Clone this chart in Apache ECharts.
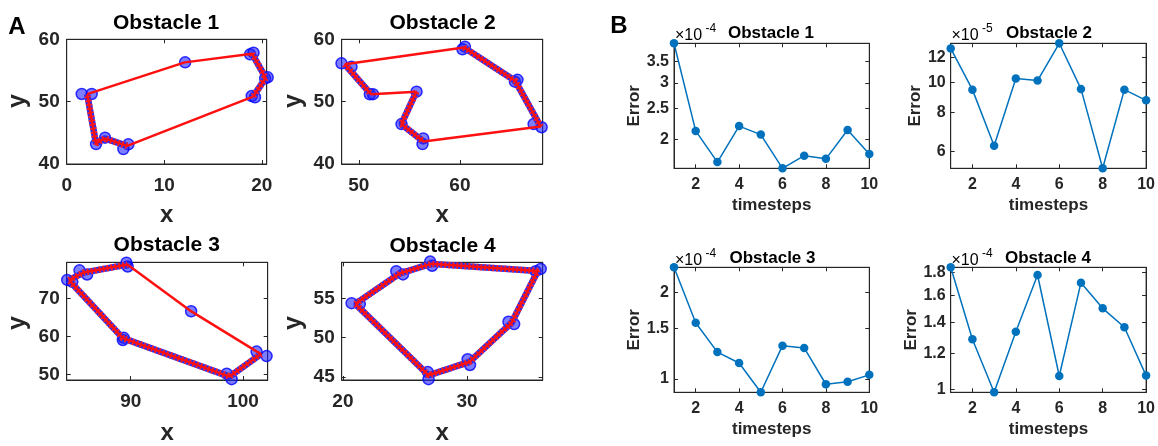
<!DOCTYPE html>
<html><head><meta charset="utf-8">
<script src="https://cdn.jsdelivr.net/npm/echarts@6/dist/echarts.min.js"></script>
<style>html,body{margin:0;padding:0;background:#fff}#c{width:1158px;height:446px}</style>
</head><body><div id="c"></div>
<script>
// ---------------- DATA ----------------
const obstacleTitles = ['Obstacle 1', 'Obstacle 2', 'Obstacle 3', 'Obstacle 4'];

// Panel A: obstacle outlines (x, y)
const obs1Polygon = [[2.1,51.2],[12.1,56.3],[19.0,57.7],[20.4,53.8],[19.1,50.8],[6.2,42.9],[3.9,44.1],[3.0,43.3],[2.1,51.2]];
const obs2Polygon = [[48.6,56.0],[60.4,58.7],[65.5,53.3],[68.0,46.0],[56.4,43.6],[54.2,46.4],[55.7,51.6],[51.2,51.2],[48.6,56.0]];
const obs3Polygon = [[84.5,74.8],[85.8,76.8],[89.7,78.9],[95.4,66.6],[101.6,55.4],[98.8,49.5],[89.3,59.6],[84.5,74.8]];
const obs4Polygon = [[21.0,54.3],[24.6,58.2],[27.1,59.4],[35.7,58.5],[33.6,51.9],[30.2,46.9],[26.9,45.2],[21.0,54.3]];

// Panel A: hatched (moving) edges
const obs1Bands = [[[19.0,57.7],[20.4,53.8],[19.1,50.8]], [[6.2,42.9],[3.9,44.1],[3.0,43.3],[2.1,51.2]]];
const obs2Bands = [[[60.4,58.7],[65.5,53.3],[68.0,46.0]], [[48.6,56.0],[51.2,51.2]], [[55.7,51.6],[54.2,46.4],[56.4,43.6]]];
const obs3Bands = [[[84.5,74.8],[85.8,76.8],[89.7,78.9]], [[101.6,55.4],[98.8,49.5],[89.3,59.6],[84.5,74.8]]];
const obs4Bands = [[[21.0,54.3],[24.6,58.2],[27.1,59.4],[35.7,58.5],[33.6,51.9],[30.2,46.9],[26.9,45.2],[21.0,54.3]]];

// Panel A: vertex markers
const obs1Markers = [[1.54,51.23],[2.56,51.23],[12.14,56.31],[18.8,57.59],[19.15,57.86],[20.34,53.74],[20.6,53.9],[18.97,50.9],[19.3,50.7],[6.32,43.16],[5.81,42.4],[3.93,44.22],[3.01,43.2]];
const obs2Markers = [[48.28,56.15],[49.27,55.6],[51.09,51.18],[51.4,51.2],[55.71,51.6],[54.22,46.4],[56.37,44.1],[56.3,43.2],[60.5,58.82],[60.26,58.4],[65.45,53.2],[65.7,53.5],[68.09,45.9],[67.3,46.4]];
const obs3Markers = [[84.35,74.87],[84.8,74.4],[85.44,77.39],[86.12,76.3],[89.62,79.41],[89.73,78.4],[95.38,66.64],[101.21,56.05],[102.1,54.87],[98.55,50.25],[98.99,48.82],[89.38,59.66],[89.3,59.1]];
const obs4Markers = [[20.7,54.39],[21.36,54.27],[24.3,58.47],[24.84,58.06],[27.03,59.69],[27.19,59.16],[35.53,58.47],[35.94,58.76],[33.34,52.02],[33.8,51.73],[30.05,47.24],[30.24,46.51],[26.84,45.61],[26.9,44.71]];

// Panel A axis ranges and ticks
const aXRange = [[0,20.5],[48.3,68.2],[84.3,102.2],[19.9,36.1]];
const aYRange = [[40,60],[40,60],[48.6,79.5],[44.6,59.6]];
const aXTicks = [[0,10,20],[50,60],[90,100],[20,30]];
const aYTicks = [[40,50,60],[40,50,60],[50,60,70],[45,50,55]];

// Panel B: error per timestep (in units of 10^exponent)
const timesteps = [1,2,3,4,5,6,7,8,9,10];
const err1 = [3.98,2.125,1.70,2.20,2.07,1.626,1.78,1.74,2.14,1.80];
const err2 = [12.84,9.47,6.26,10.28,10.13,13.33,9.52,5.30,9.47,8.75];
const err3 = [2.45,1.57,1.24,1.136,0.898,1.306,1.282,0.958,0.978,1.033];
const err4 = [1.845,1.286,0.986,1.336,1.775,1.070,1.708,1.502,1.366,1.072];
const errExponents = ['-4','-5','-4','-4'];
const bXTicks = [2,4,6,8,10];
const bYTicks = [[2,2.5,3,3.5],[6,8,10,12],[1,1.5,2],[1,1.2,1.4,1.6,1.8]];

// ---------------- LAYOUT / STYLE ----------------
const FONT = '"Liberation Sans", Arial, Helvetica, sans-serif';
const INK = '#262626';
const polys = [obs1Polygon, obs2Polygon, obs3Polygon, obs4Polygon];
const bands = [obs1Bands, obs2Bands, obs3Bands, obs4Bands];
const markers = [obs1Markers, obs2Markers, obs3Markers, obs4Markers];
const errs = [err1, err2, err3, err4];

// grid rects [left, top, right, bottom] in px
const gridRects = [
  [66.7,39.3,266.7,164],[341.7,39.3,542.7,164],[66.7,262.3,267.7,385],[341.7,262.3,542.7,385],
  [674,43.3,869.3,168.3],[950.7,43.3,1146.7,168.3],[674,267.3,869.3,392.3],[950.7,267.3,1146.7,392.3]
];
const bYNameGap = [30, 26.5, 30, 30];
const aXNameGap = [39, 39, 41, 41];

const grids = gridRects.map(r => ({
  left: r[0], top: r[1], width: r[2]-r[0], height: r[3]-r[1],
  show: true, borderColor: INK, borderWidth: 1, backgroundColor: 'transparent', containLabel: false
}));

const xAxes = [], yAxes = [];
const lg10 = v => Math.log10(v);
const fmtNum = v => { const r = Math.round(Math.pow(10, v) * 100) / 100; return String(r); };

for (let k = 0; k < 8; k++) {
  const isA = k < 4;
  const i = k % 4;
  let xmin, xmax, ymin, ymax, xt, yt;
  if (isA) {
    [xmin, xmax] = aXRange[i]; [ymin, ymax] = aYRange[i]; xt = aXTicks[i]; yt = aYTicks[i];
  } else {
    xmin = 1; xmax = 10; xt = bXTicks;
    ymin = lg10(Math.min(...errs[i])); ymax = lg10(Math.max(...errs[i]));
    yt = bYTicks[i].map(lg10);
  }
  const tickFs = isA ? 19 : 16;
  const nameFs = isA ? 24 : 17;
  const common = { gridIndex: k, type: 'value', splitLine: { show: false },
    axisLine: { show: true, onZero: false, lineStyle: { color: INK, width: 1 } } };
  xAxes.push(Object.assign({}, common, {
    position: 'bottom', min: xmin, max: xmax,
    name: isA ? 'x' : 'timesteps', nameLocation: 'middle', nameGap: isA ? aXNameGap[i] : 28.5,
    nameTextStyle: { fontFamily: FONT, fontWeight: 'bold', fontSize: nameFs, color: INK },
    axisTick: { show: true, inside: true, length: 4, customValues: xt, lineStyle: { color: INK } },
    axisLabel: { show: true, customValues: xt, margin: isA ? 12 : 8, fontFamily: FONT, fontWeight: 'bold', fontSize: tickFs, color: INK }
  }));
  xAxes.push(Object.assign({}, common, {
    position: 'top', min: xmin, max: xmax,
    axisTick: { show: true, inside: true, length: 4, customValues: xt, lineStyle: { color: INK } },
    axisLabel: { show: false }
  }));
  yAxes.push(Object.assign({}, common, {
    position: 'left', min: ymin, max: ymax,
    name: isA ? '' : 'Error', nameLocation: 'middle', nameGap: isA ? 33 : bYNameGap[i],
    nameTextStyle: { fontFamily: FONT, fontWeight: 'bold', fontSize: nameFs, color: INK },
    axisTick: { show: true, inside: true, length: 4, customValues: yt, lineStyle: { color: INK } },
    axisLabel: { show: true, customValues: yt, margin: isA ? 7 : 5, fontFamily: FONT, fontWeight: 'bold', fontSize: tickFs, color: INK,
      formatter: isA ? (v => String(v)) : fmtNum }
  }));
  yAxes.push(Object.assign({}, common, {
    position: 'right', min: ymin, max: ymax,
    axisTick: { show: true, inside: true, length: 4, customValues: yt, lineStyle: { color: INK } },
    axisLabel: { show: false }
  }));
}

const series = [];
for (let i = 0; i < 4; i++) {
  const xi = 2 * i, yi = 2 * i;
  series.push({ type: 'scatter', xAxisIndex: xi, yAxisIndex: yi, data: markers[i], symbol: 'circle', symbolSize: 11, clip: false,
    itemStyle: { color: 'rgba(30,30,255,0.72)', borderColor: '#0000ff', borderWidth: 1.5 }, z: 2, silent: true });
  bands[i].forEach(b => {
    series.push({ type: 'line', xAxisIndex: xi, yAxisIndex: yi, data: b, showSymbol: false, clip: false, silent: true,
      lineStyle: { color: '#2c2cf0', width: 6.5, cap: 'butt' }, z: 3 });
    series.push({ type: 'line', xAxisIndex: xi, yAxisIndex: yi, data: b, showSymbol: false, clip: false, silent: true,
      lineStyle: { color: '#ff2020', width: 6.5, type: [1.8, 2.2], cap: 'butt' }, z: 4 });
  });
  series.push({ type: 'line', xAxisIndex: xi, yAxisIndex: yi, data: polys[i], showSymbol: false, clip: false, silent: true,
    lineStyle: { color: '#ff1010', width: 2.5 }, z: 5 });
}
for (let i = 0; i < 4; i++) {
  const k = 4 + i;
  series.push({ type: 'line', xAxisIndex: 2 * k, yAxisIndex: 2 * k, clip: false, silent: true,
    data: timesteps.map((t, j) => [t, lg10(errs[i][j])]),
    symbol: 'circle', symbolSize: 8.5, showSymbol: true,
    lineStyle: { color: '#0072BD', width: 1.5 }, itemStyle: { color: '#0072BD' } });
}

const txt = (x, y, text, size, weight, align, color) => ({
  type: 'text', x: x, y: y, silent: true,
  style: { text: text, font: `${weight} ${size}px ${FONT}`, fill: color || '#000', textAlign: align || 'center', textVerticalAlign: 'middle', align: align || 'center', verticalAlign: 'middle' }
});
const graphics = [
  txt(17, 27, 'A', 24, 'bold'), txt(619, 26, 'B', 24, 'bold'),
  txt(166, 23, obstacleTitles[0], 21, 'bold'), txt(442.5, 23, obstacleTitles[1], 21, 'bold'),
  txt(166.7, 245.5, obstacleTitles[2], 21, 'bold'), txt(442.5, 246.5, obstacleTitles[3], 21, 'bold'),
  txt(771, 33, obstacleTitles[0], 17, 'bold'), txt(1049, 33, obstacleTitles[1], 17, 'bold'),
  txt(772.5, 258.3, obstacleTitles[2], 17, 'bold'), txt(1048, 258.3, obstacleTitles[3], 17, 'bold')
];
// Panel A y-axis names (rotated)
const aYNamePos = [[18, 101], [294, 101], [18, 323], [294, 323]];
aYNamePos.forEach(p => {
  const t = txt(p[0], p[1], 'y', 25, 'bold', 'center', INK);
  t.rotation = Math.PI / 2;
  graphics.push(t);
});
const expPos = [[675,36],[951.5,36],[675,261],[951.5,261]];
expPos.forEach((p, i) => {
  graphics.push(txt(p[0], p[1], '\u00d710', 16, 'normal', 'left'));
  graphics.push(txt(p[0] + 30.5, p[1] - 7.5, errExponents[i], 12, 'normal', 'left'));
});

const chart = echarts.init(document.getElementById('c'), null, { renderer: 'canvas' });
chart.setOption({
  backgroundColor: '#fff', animation: false,
  grid: grids, xAxis: xAxes, yAxis: yAxes, series: series, graphic: graphics
});
</script></body></html>
